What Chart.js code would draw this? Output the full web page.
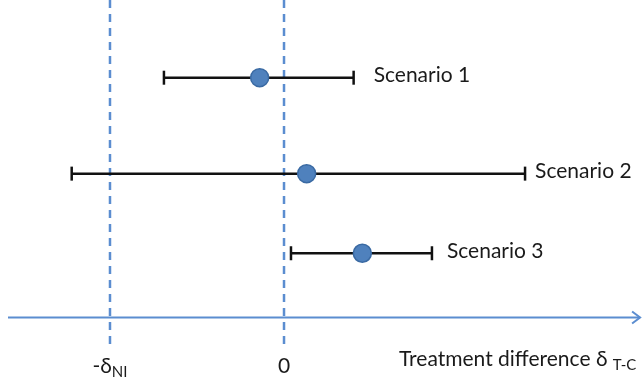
<!DOCTYPE html>
<html>
<head>
<meta charset="utf-8">
<script src="https://cdn.jsdelivr.net/npm/chart.js@4/dist/chart.umd.min.js"></script>
<style>
  html, body { margin: 0; padding: 0; background: #fff; }
  canvas { display: block; }
</style>
</head>
<body>
<canvas id="c" width="642" height="377"></canvas>
<script>
// Confidence intervals for the treatment difference, one row per scenario
const scenarios = ['Scenario 1', 'Scenario 2', 'Scenario 3'];
const estimates = [-0.14, 0.13, 0.45];
const lowerLimits = [-0.69, -1.22, 0.04];
const upperLimits = [0.40, 1.385, 0.85];

// Reference lines: the non-inferiority margin (-δNI) and zero
const referenceValues = [-1, 0];
const referenceMain = ['-δ', '0'];
const referenceSub = ['NI', ''];
const axisTitleMain = 'Treatment difference δ';
const axisTitleSub = 'T-C';

// Layout of the drawing (vertical lanes in y-scale units)
const lanes = [1, 2, 2.83];
const labelGap = [20, 10, 15];
const axisLane = 3.5;
const refTop = 0.19, refBottom = 3.83;
const xMin = -1.632, xMax = 2.057;
const axisStart = -1.586, axisEnd = 2.046;

const BLUE = '#5b8dd0';
const FONT = '"Lato", "Open Sans", sans-serif';

const datasets = [];

// point estimates
datasets.push({
  type: 'scatter',
  data: estimates.map((v, i) => ({ x: v, y: lanes[i] })),
  pointRadius: 9,
  pointHoverRadius: 9,
  backgroundColor: '#4f81bd',
  borderColor: '#3a6aa3',
  borderWidth: 1.5,
  order: 0
});

// interval bars with end caps
scenarios.forEach((s, i) => {
  datasets.push({
    type: 'line',
    data: [{ x: lowerLimits[i], y: lanes[i] }, { x: upperLimits[i], y: lanes[i] }],
    borderColor: '#111',
    borderWidth: 2.5,
    pointStyle: 'line',
    rotation: 90,
    pointRadius: 7,
    pointBorderWidth: 2.5,
    pointBorderColor: '#111',
    fill: false,
    order: 1
  });
});

// dashed reference lines
referenceValues.forEach(v => {
  datasets.push({
    type: 'line',
    data: [{ x: v, y: refTop }, { x: v, y: refBottom }],
    borderColor: BLUE,
    borderWidth: 2.5,
    borderDash: [8, 6],
    pointRadius: 0,
    fill: false,
    order: 2
  });
});

// horizontal axis line
datasets.push({
  type: 'line',
  data: [{ x: axisStart, y: axisLane }, { x: axisEnd, y: axisLane }],
  borderColor: BLUE,
  borderWidth: 2,
  pointRadius: 0,
  fill: false,
  order: 3
});

function drawSubText(ctx, main, sub, x, y, size, subSize, drop, align) {
  ctx.font = size + 'px ' + FONT;
  const wMain = ctx.measureText(main).width;
  ctx.font = subSize + 'px ' + FONT;
  const wSub = ctx.measureText(sub).width;
  let start = x;
  if (align === 'center') start = x - (wMain + wSub) / 2;
  ctx.textAlign = 'left';
  ctx.textBaseline = 'alphabetic';
  ctx.font = size + 'px ' + FONT;
  ctx.fillText(main, start, y);
  ctx.font = subSize + 'px ' + FONT;
  ctx.fillText(sub, start + wMain, y + drop);
}

const annotations = {
  id: 'annotations',
  afterDatasetsDraw(chart) {
    const { ctx, scales: { x, y } } = chart;
    ctx.save();
    // arrow head
    const ax = x.getPixelForValue(axisEnd);
    const ay = y.getPixelForValue(axisLane);
    ctx.strokeStyle = BLUE;
    ctx.lineWidth = 2;
    ctx.beginPath();
    ctx.moveTo(ax - 8, ay - 6);
    ctx.lineTo(ax, ay);
    ctx.lineTo(ax - 8, ay + 6);
    ctx.stroke();

    ctx.fillStyle = '#1a1a1a';
    // scenario labels
    scenarios.forEach((s, i) => {
      ctx.font = '21px ' + FONT;
      ctx.textAlign = 'left';
      ctx.textBaseline = 'middle';
      ctx.fillText(s, x.getPixelForValue(upperLimits[i]) + labelGap[i], y.getPixelForValue(lanes[i]) - 2);
    });
    // reference labels
    referenceValues.forEach((v, i) => {
      drawSubText(ctx, referenceMain[i], referenceSub[i], x.getPixelForValue(v), 373, 21, 15, 4, 'center');
    });
    // axis title
    drawSubText(ctx, axisTitleMain + ' ', axisTitleSub, 399, 366, 21, 15, 4, 'left');
    ctx.restore();
  }
};

new Chart(document.getElementById('c'), {
  data: { datasets },
  options: {
    responsive: false,
    animation: false,
    layout: { padding: 0, autoPadding: false },
    plugins: { legend: { display: false }, tooltip: { enabled: false } },
    scales: {
      x: { type: 'linear', min: xMin, max: xMax, display: false },
      y: { type: 'linear', min: 0.19, max: 4.12, reverse: true, display: false }
    }
  },
  plugins: [annotations]
});
</script>
</body>
</html>
